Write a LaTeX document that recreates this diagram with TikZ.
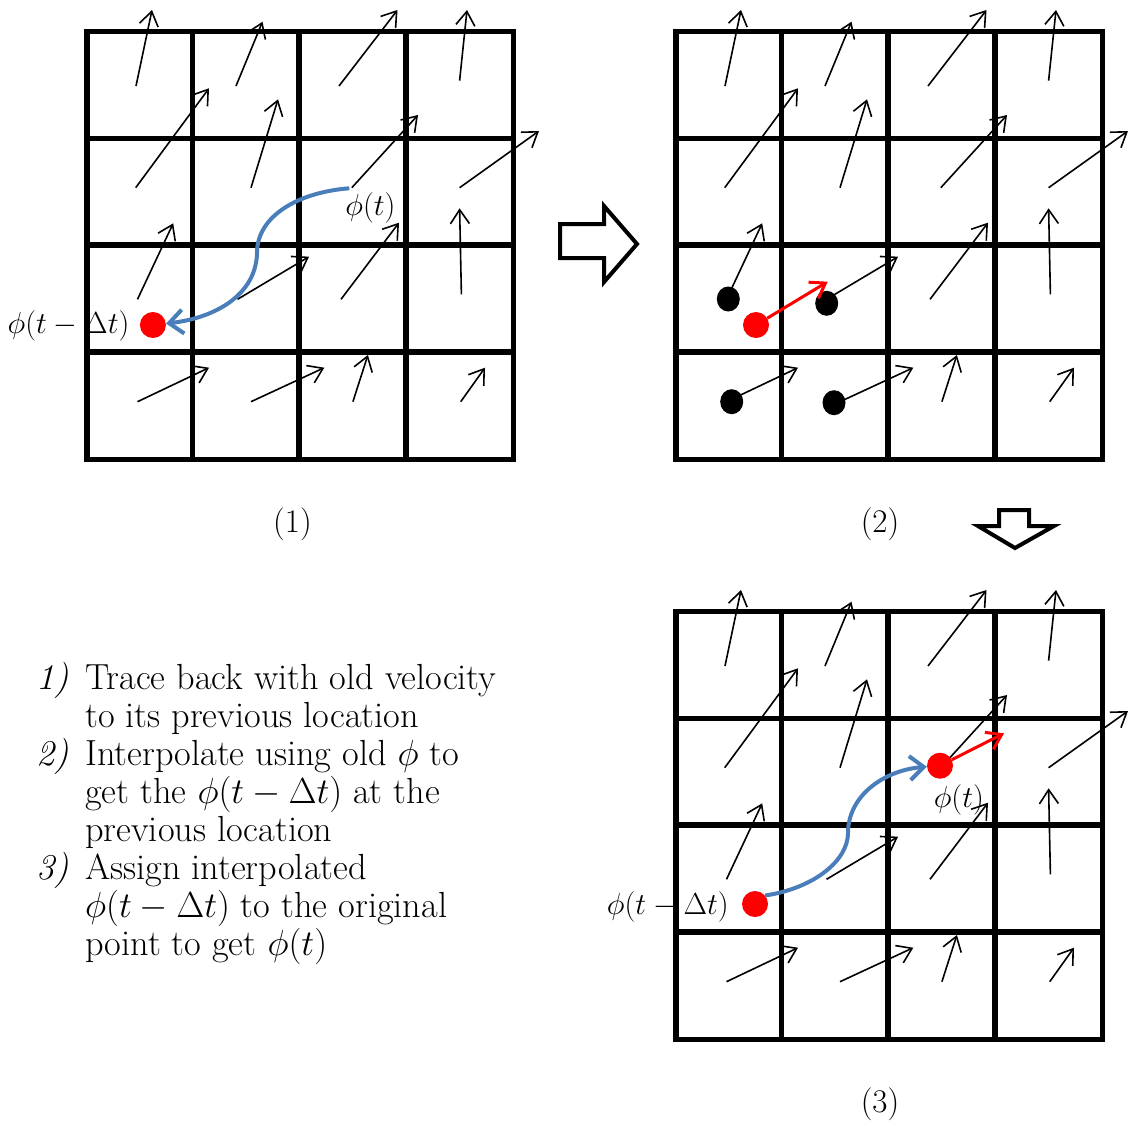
\RequirePackage{fix-cm}
\documentclass[tikz,border=0pt]{standalone}
\usetikzlibrary{arrows.meta,shapes.geometric}
\definecolor{curveblue}{RGB}{74,126,187}
\definecolor{dotred}{RGB}{255,0,0}
\tikzset{
  gridline/.style={line width=5.5pt,line cap=rect},
  vel/.style={line width=1.6pt,-{Straight Barb[length=14pt,width=19pt]}},
  redvel/.style={draw=dotred,line width=3pt,-{Straight Barb[length=14pt,width=19pt]}},
  trace/.style={draw=curveblue,line width=4pt,-{Straight Barb[length=14pt,width=24pt]}},
  reddot/.style={circle,fill=dotred,minimum size=26pt,inner sep=0pt},
  blackdot/.style={ellipse,fill=black,minimum width=23pt,minimum height=25pt,inner sep=0pt},
  mathlabel/.style={font=\fontsize{30.5}{36}\selectfont,inner sep=0pt},
  captionlabel/.style={font=\fontsize{33}{40}\selectfont,inner sep=0pt},
  steptext/.style={font=\fontsize{36.3}{38.1}\selectfont,inner sep=0pt,anchor=north west,align=left},
  blockarrow/.style={draw,line width=4pt,fill=white,line join=miter},
}
\newcommand{\cellgrid}{%
  \draw[gridline] (87,31.7) rectangle (513.3,459.3);
  \foreach \gx in {192.3,299,406} \draw[gridline] (\gx,31.7) -- (\gx,459.3);
  \foreach \gy in {138.3,245,352} \draw[gridline] (87,\gy) -- (513.3,\gy);
}
\newcommand{\velfield}{%
  \foreach \ax/\ay/\bx/\by in {
    136/86/152/10, 236/86/262.5/21.7, 339/86/397.5/10, 459.6/80.7/467/10,
    135.7/187.7/209/88.3, 251/187.7/278/99.3, 351.8/187.7/418/115, 459.6/187.7/539/131,
    137.5/299.3/173.2/223.3, 237.5/299.3/309/256.7, 341/299.3/399/222.7, 461.4/294.3/459.6/208.3,
    137.5/401.7/209/367.7, 251/401.7/324.3/367.7, 352.9/401.7/367.9/355, 460.7/401.7/485/367.7}
    \draw[vel] (\ax,\ay) -- (\bx,\by);
}
\newcommand{\stepnum}[1]{\makebox[49pt][l]{\itshape #1}}
\newcommand{\stepind}{\hspace*{49pt}}
\begin{document}
\begin{tikzpicture}[x=1pt,y=-1pt]
\useasboundingbox (0,0) rectangle (1133,1122);

% ---------- grid (1)
\cellgrid
\velfield
\node[reddot] (d1) at (152.9,325) {};
\coordinate (p1) at (349.3,188.3);
\draw[trace] (p1) .. controls (300,192) and (257,215) .. (257,253)
                   .. controls (256,295) and (215,318) .. (d1);
\node[mathlabel] (l1a) at (370.5,207.5) {$\phi(t)$};
\node[mathlabel] (l1b) at (68.5,325.5) {$\phi(t-\Delta t)$};
\node[captionlabel] (c1) at (292.5,524) {(1)};

% ---------- block arrow right
\draw[blockarrow] (560,224) -- (604,224) -- (604,206) -- (637,244)
  -- (604,282) -- (604,258) -- (560,258) -- cycle;

% ---------- grid (2)
\begin{scope}[shift={(589,0)}]
  \cellgrid
  \velfield
\end{scope}
\node[blackdot] (b1) at (728.3,299) {};
\node[blackdot] (b2) at (826.7,303.3) {};
\node[blackdot] (b3) at (731.7,401.7) {};
\node[blackdot] (b4) at (834,402.7) {};
\node[reddot] (d2) at (756,325) {};
\coordinate (r2tip) at (827.7,281.7);
\draw[redvel] (d2) -- (r2tip);
\node[captionlabel] (c2) at (880,524) {(2)};

% ---------- block arrow down
\draw[blockarrow] (999,510) -- (1029,510) -- (1029,526) -- (1054,526)
  -- (1015,548) -- (978,526) -- (999,526) -- cycle;

% ---------- grid (3)
\begin{scope}[shift={(589,580)}]
  \cellgrid
  \velfield
\end{scope}
\node[reddot] (d3a) at (755,904) {};
\node[reddot] (d3b) at (940,765.7) {};
\draw[trace] (d3a.40) .. controls (815,888) and (848,860) .. (848,833)
                      .. controls (848,795) and (885,770) .. (d3b);
\coordinate (r3tip) at (1004,733.3);
\draw[redvel] (d3b) -- (r3tip);
\node[mathlabel] (l3a) at (958.8,800) {$\phi(t)$};
\node[mathlabel] (l3b) at (667.8,907) {$\phi(t-\Delta t)$};
\node[captionlabel] (c3) at (880,1104) {(3)};

% ---------- step text
\node[steptext] (steps) at (36,661.8) {%
  \stepnum{1)}Trace back with old velocity\\
  \stepind to its previous location\\
  \stepnum{2)}Interpolate using old $\phi$ to\\
  \stepind get the $\phi(t-\Delta t)$ at the\\
  \stepind previous location\\
  \stepnum{3)}Assign interpolated\\
  \stepind $\phi(t-\Delta t)$ to the original\\
  \stepind point to get $\phi(t)$};
\end{tikzpicture}
\end{document}
